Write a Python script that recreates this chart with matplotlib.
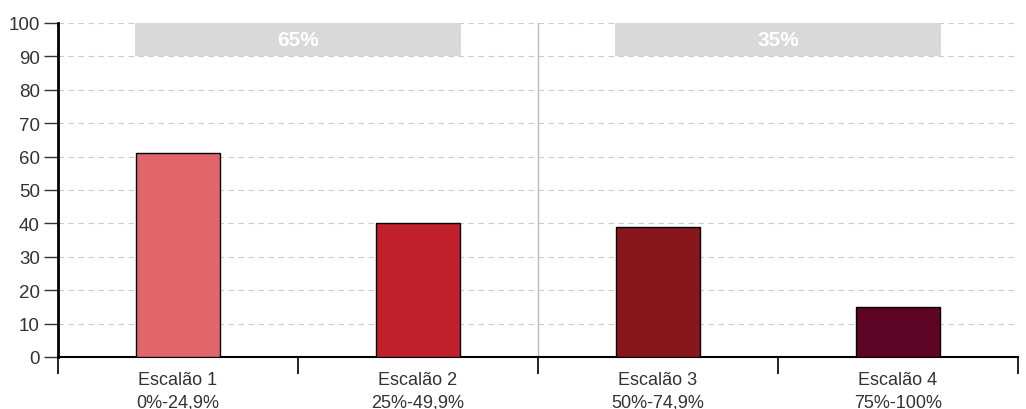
import numpy as np
import matplotlib.pyplot as plt

# Share of entities per bracket
categories = ["Escalão 1", "Escalão 2", "Escalão 3", "Escalão 4"]
ranges = ["0%-24,9%", "25%-49,9%", "50%-74,9%", "75%-100%"]
values = [61, 40, 39, 15]
colors = ["#E0666B", "#C0202B", "#88161C", "#5E0424"]

# Group totals shown in the grey header boxes
group_labels = ["65%", "35%"]
group_centers = [0.5, 2.5]

plt.rcParams['font.family'] = ['Liberation Sans', 'DejaVu Sans']
text_color = "#333333"

fig = plt.figure(figsize=(10.26, 4.10), dpi=100)
ax = fig.add_axes([58 / 1026, 52 / 410, 960 / 1026, 334 / 410])

x = np.arange(len(categories))
ax.bar(x, values, width=0.35, color=colors, edgecolor="black", linewidth=1, zorder=3)

# header boxes with group share
for cx, lab in zip(group_centers, group_labels):
    ax.bar(cx, 10, bottom=90, width=1.36, color="#D9D9D9", zorder=2)
    ax.text(cx, 95, lab, ha="center", va="center", color="white",
            fontsize=15, fontweight="bold", zorder=4)

# separator between the two groups
ax.axvline(1.5, color="#BBBBBB", linewidth=1, zorder=1)

ax.set_xlim(-0.5, 3.5)
ax.set_ylim(0, 100)
ax.set_yticks(np.arange(0, 101, 10))
ax.yaxis.grid(True, linestyle=(0, (5, 4)), color="#CCCCCC", linewidth=0.8, zorder=0)
ax.set_axisbelow(True)

# ticks at bracket boundaries, labels under each bar
ax.set_xticks(np.arange(-0.5, 3.6, 1))
ax.set_xticklabels([])
ax.set_xticks(x, minor=True)
ax.set_xticklabels([f"{c}\n{r}" for c, r in zip(categories, ranges)], minor=True,
                   fontsize=13, color=text_color, linespacing=1.45)
ax.tick_params(axis="x", which="major", length=12, width=1.2, direction="out", color="black")
ax.tick_params(axis="x", which="minor", length=0, pad=10)
ax.tick_params(axis="y", length=10, width=1, color="#333333", labelsize=13.5,
               labelcolor=text_color, pad=3)

for s in ["top", "right"]:
    ax.spines[s].set_visible(False)
ax.spines["left"].set_linewidth(2)
ax.spines["bottom"].set_linewidth(1.5)

plt.savefig("out.png", dpi=100)
